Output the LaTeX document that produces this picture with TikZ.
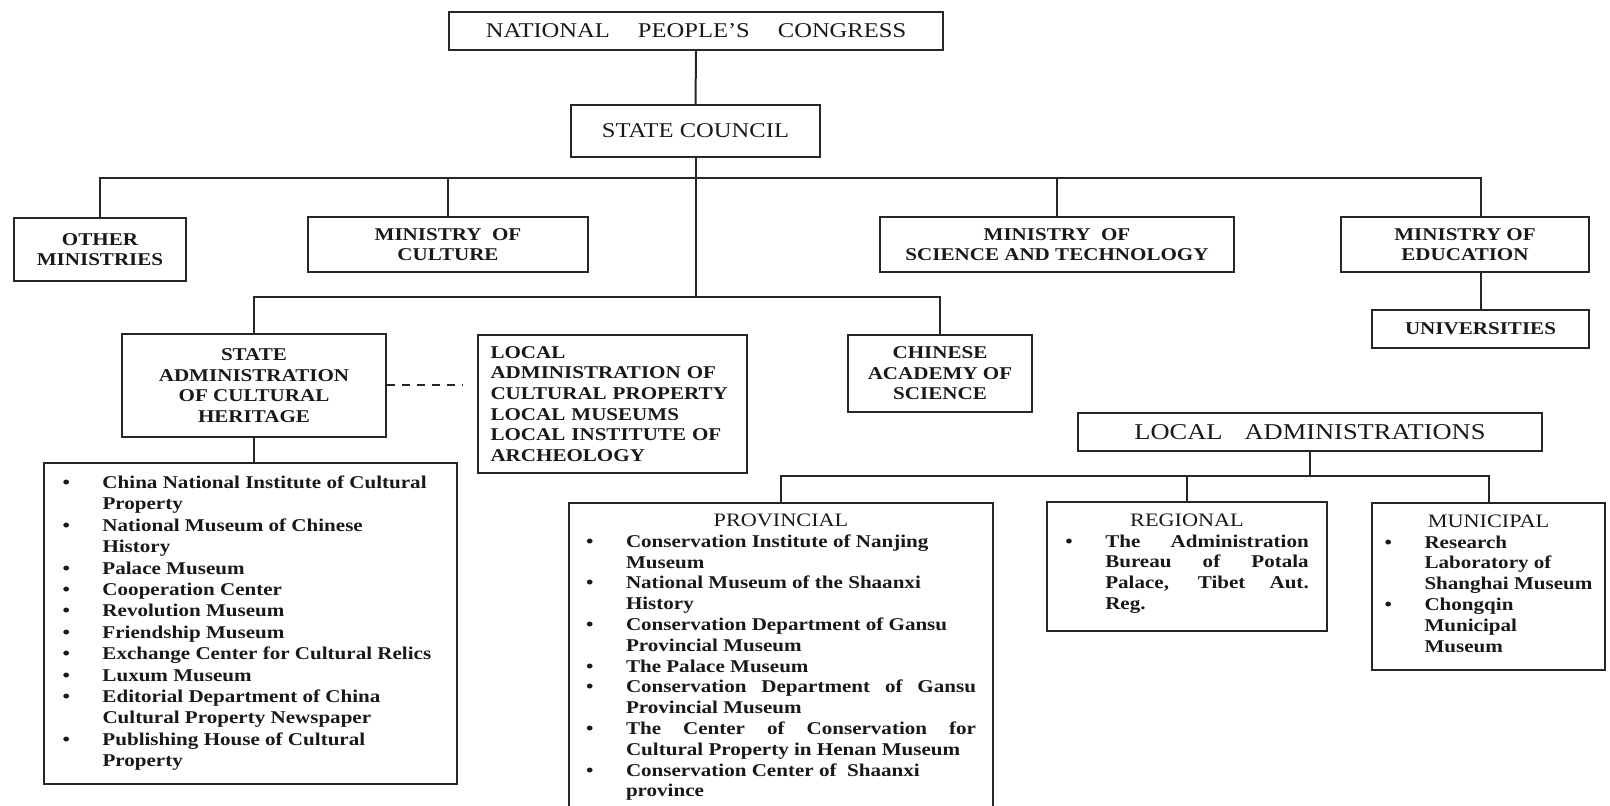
\documentclass[tikz,border=0pt]{standalone}
\usepackage{fontspec}
\setmainfont{Liberation Serif}[FakeStretch=1.17]
\usetikzlibrary{positioning}

\newcommand{\bul}{\par\noindent\hangindent=20pt\hangafter=1\makebox[20pt][l]{\textbullet}}
\newcommand{\ltitle}[1]{{\centering\mdseries\fontsize{9.5}{10.4}\selectfont #1\par}}

\tikzset{
  orgbox/.style={draw=black!85, line width=1pt, inner sep=0pt, align=center, text=black!90,
    font=\bfseries\fontsize{9}{10.3}\selectfont},
  toplabel/.style={orgbox, font=\fontsize{10.5}{12}\selectfont},
  listbox/.style={draw=black!85, line width=1pt, inner xsep=0pt, inner ysep=5.5pt, anchor=north,
    align=justify, text=black!90, font=\bfseries\fontsize{9}{10.4}\selectfont},
  link/.style={draw=black!85, line width=1pt}
}

\begin{document}
\begin{tikzpicture}[x=0.5pt, y=-0.5pt]
		\clip (0,0) rectangle (1610,806);
		\node[toplabel, minimum width=247pt, minimum height=19pt] (npc) at (696,31)
			{NATIONAL\hspace{14pt}PEOPLE'S\hspace{14pt}CONGRESS};
		\node[toplabel, minimum width=124.5pt, minimum height=26pt] (sc) at (695.5,131) {STATE COUNCIL};
		\node[orgbox, minimum width=86pt, minimum height=31.5pt] (other) at (100,249.5) {OTHER\\MINISTRIES};
		\node[orgbox, minimum width=140pt, minimum height=27.5pt] (moc) at (448,244.5) {MINISTRY\ \ OF\\CULTURE};
		\node[orgbox, minimum width=177pt, minimum height=27.5pt] (mst) at (1057,244.5)
			{MINISTRY\ \ OF\\SCIENCE AND TECHNOLOGY};
		\node[orgbox, minimum width=124pt, minimum height=27.5pt] (moe) at (1465,244.5) {MINISTRY OF\\EDUCATION};
		\node[orgbox, minimum width=108.5pt, minimum height=19pt] (univ) at (1480.5,329) {UNIVERSITIES};
		\node[orgbox, minimum width=132pt, minimum height=51.5pt] (sach) at (254,385.5)
			{STATE\\ADMINISTRATION\\OF CULTURAL\\HERITAGE};
		\node[orgbox, align=left, text width=122pt, minimum width=134.5pt, minimum height=69pt] (lacp) at (612.5,404)
			{LOCAL\\ADMINISTRATION OF\\CULTURAL PROPERTY\\LOCAL MUSEUMS\\LOCAL INSTITUTE OF\\ARCHEOLOGY};
		\node[orgbox, minimum width=92pt, minimum height=38.5pt] (cas) at (940,373.5) {CHINESE\\ACADEMY OF\\SCIENCE};
		\node[toplabel, font=\fontsize{11.3}{12}\selectfont, minimum width=232pt, minimum height=19pt] (locadm) at (1310,432)
			{LOCAL\hspace{11pt}ADMINISTRATIONS};

		\node[listbox, text width=188pt, minimum width=206.5pt, inner ysep=2pt,
			font=\bfseries\fontsize{9}{10.7}\selectfont] (salist) at (250.5,462) {
			\bul China National Institute of Cultural\newline Property
			\bul National Museum of Chinese\newline History
			\bul Palace Museum
			\bul Cooperation Center
			\bul Revolution Museum
			\bul Friendship Museum
			\bul Exchange Center for Cultural Relics
			\bul Luxum Museum
			\bul Editorial Department of China\newline Cultural Property Newspaper
			\bul Publishing House of Cultural\newline Property\par\vspace*{5pt}};
		\node[listbox, text width=195pt, minimum width=212pt] (prov) at (781,502) {
			\ltitle{PROVINCIAL}
			\bul Conservation Institute of Nanjing\newline Museum
			\bul National Museum of the Shaanxi\newline History
			\bul Conservation Department of Gansu\newline Provincial Museum
			\bul The Palace Museum
			\bul Conservation Department of Gansu\linebreak Provincial Museum
			\bul The Center of Conservation for\linebreak Cultural Property in Henan Museum
			\bul Conservation Center of\ \ Shaanxi\newline province\par};
		\node[listbox, text width=121.75pt, minimum width=140pt, minimum height=64.5pt] (reg) at (1187,501) {
			\ltitle{REGIONAL}
			\bul The Administration\linebreak Bureau of Potala\linebreak Palace, Tibet Aut.\linebreak Reg.\par
			\vspace*{3pt}};
		\node[listbox, text width=104pt, minimum width=116.5pt, minimum height=83.5pt] (mun) at (1488.5,502) {
			\ltitle{MUNICIPAL}
			\bul Research\newline Laboratory of\newline Shanghai Museum
			\bul Chongqin\newline Municipal\newline Museum\par\vspace*{3pt}};

		\coordinate (bus1) at (0,178);
		\coordinate (bus2) at (0,297);
		\coordinate (bus3) at (0,476);
		\draw[link] (npc.south) -- (sc.north);
		\draw[link] (sc.south) -- (sc.south |- bus2);
		\draw[link] (other.north) -- (other.north |- bus1) -| (moe.north -| univ.north);
		\draw[link] (moc.north |- bus1) -- (moc.north);
		\draw[link] (mst.north |- bus1) -- (mst.north);
		\draw[link] (moe.south -| univ.north) -- (univ.north);
		\draw[link] (sach.north) |- (cas.north |- bus2) -- (cas.north);
		\draw[link, dash pattern=on 4pt off 3.5pt, shorten >=7pt] (sach.east) -- (sach.east -| lacp.west);
		\draw[link] (sach.south) -- (sach.south |- salist.north);
		\draw[link] (locadm.south) -- (locadm.south |- bus3);
		\draw[link] (prov.north) |- (mun.north |- bus3) -- (mun.north);
		\draw[link] (reg.north |- bus3) -- (reg.north);
\end{tikzpicture}
\end{document}
